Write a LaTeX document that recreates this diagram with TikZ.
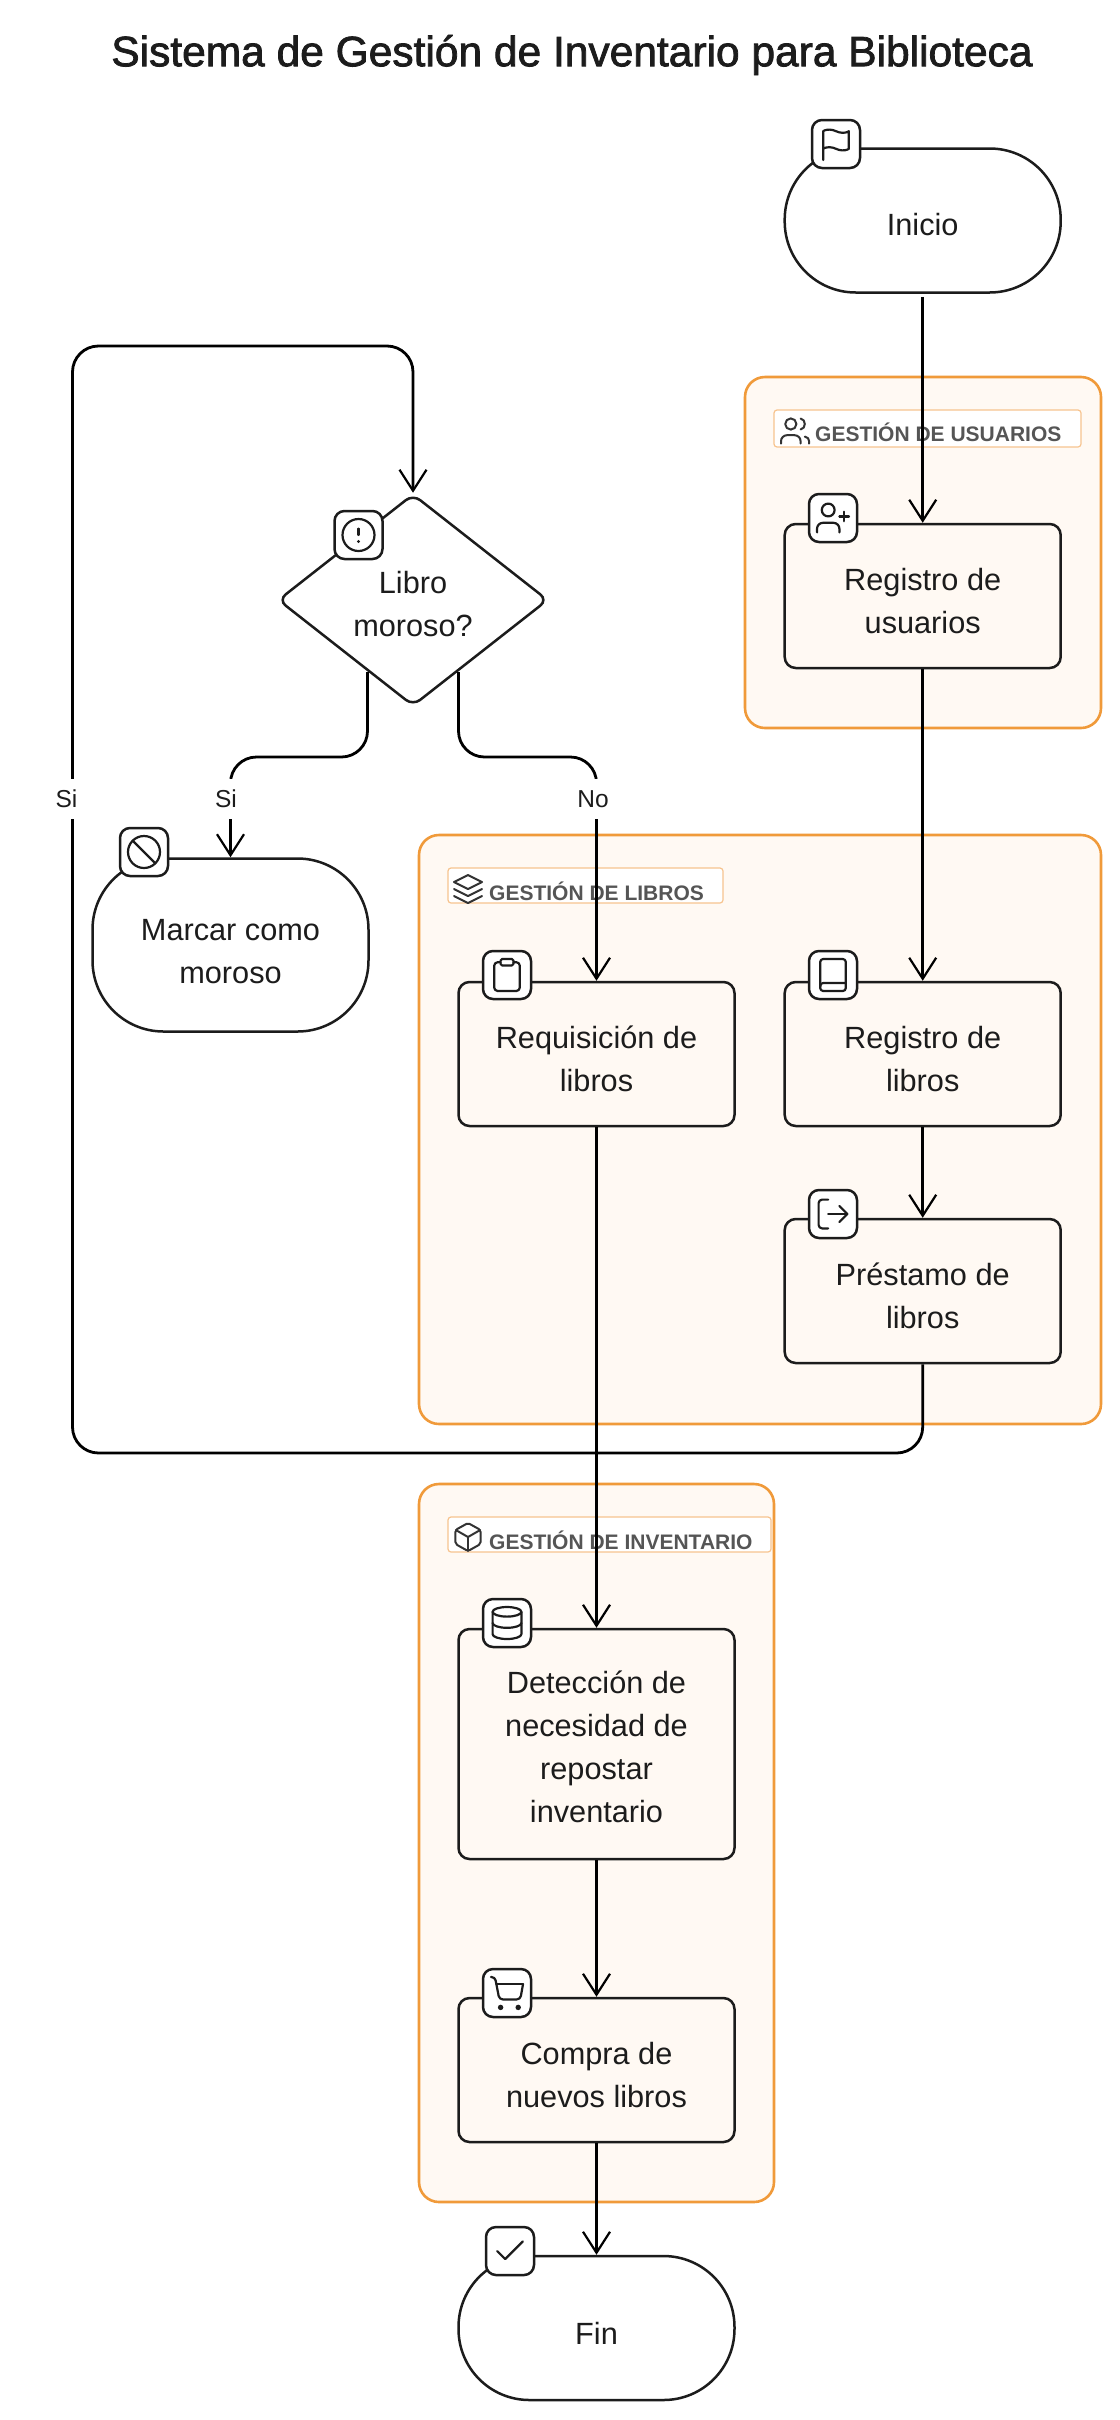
\documentclass[tikz,border=0pt]{standalone}
\usepackage{fontspec}
\setmainfont{Liberation Sans}
\newfontfamily\titlefont[FakeBold=1.8]{Liberation Sans}
\usetikzlibrary{arrows.meta,shapes.geometric}
\definecolor{groupline}{HTML}{F09A3A}
\definecolor{groupfill}{HTML}{FFF9F3}
\definecolor{labelline}{HTML}{F7C48F}
\definecolor{labeltext}{HTML}{555555}
\definecolor{inkline}{HTML}{1C1C1C}
\newcommand{\nodelift}{81pt}
\tikzset{
    basetext/.style={font=\fontsize{30.7}{43}\selectfont, text=inkline, align=center, inner sep=0pt, execute at begin node={\rule{0pt}{\nodelift}}, execute at end node={\rule[-7pt]{0pt}{7pt}}},
    lift/.code={\renewcommand{\nodelift}{#1}},
    groupbox/.style={draw=groupline, fill=groupfill, line width=2.6pt, rounded corners=20pt},
    labelbox/.style={draw=labelline, fill=white, line width=1.2pt, rounded corners=3pt},
    labeltxt/.style={font=\bfseries\fontsize{21}{24}\selectfont, text=labeltext, anchor=base west, inner sep=0pt},
    procbox/.style={basetext, draw=inkline, fill=groupfill, line width=2.5pt, rounded corners=11pt, minimum width=276pt, minimum height=144pt},
    endbox/.style={basetext, draw=inkline, fill=white, line width=2.5pt, rounded corners=71pt, minimum width=276pt, minimum height=144pt},
    diambox/.style={basetext, diamond, draw=inkline, fill=white, line width=2.5pt, rounded corners=9pt, aspect=1.275, minimum width=270pt, minimum height=212pt},
    iconbox/.style={draw=inkline, fill=white, line width=2.5pt, rounded corners=10pt, minimum size=48pt, inner sep=0pt},
    flow/.style={draw=black, line width=2.8pt, -{Straight Barb[length=21pt,width=27pt,line width=2.2pt]}},
    edgetxt/.style={font=\fontsize{24.5}{28}\selectfont, text=inkline, fill=white, inner xsep=4pt, inner ysep=0pt, minimum height=40pt},
    icongrid/.style={shift={(#1.center)}, x=1.6pt, y=-1.6pt, shift={(-12,-12)}, draw=inkline, line width=2.2pt, line cap=round, line join=round},
    smallgrid/.style={shift={(#1)}, x=1.4pt, y=-1.4pt, shift={(-12,-12)}, draw=labeltext!60!black, line width=2pt, line cap=round, line join=round},
}
\begin{document}
\begin{tikzpicture}[x=1pt, y=-1pt]
        \fill[white] (0,0) rectangle (1119,2420);
        \useasboundingbox (0,0) rectangle (1119,2420);

        \node[font=\titlefont\fontsize{42.5}{48}\selectfont, text=inkline, inner sep=0pt] (title) at (572,55) {Sistema de Gestión de Inventario para Biblioteca};

        \draw[groupbox] (745,377) rectangle (1101,728);
        \draw[groupbox] (419,835) rectangle (1101,1424);
        \draw[groupbox] (419,1484) rectangle (774,2202);

        \draw[labelbox] (774,410) rectangle (1081,447);
        \draw[labelbox] (448,868) rectangle (723,903);
        \draw[labelbox] (448,1517) rectangle (771,1552);
        \node[labeltxt] (usrlabel) at (815,441) {GESTIÓN DE USUARIOS};
        \node[labeltxt] (liblabel) at (489,900) {GESTIÓN DE LIBROS};
        \node[labeltxt] (invlabel) at (489,1549) {GESTIÓN DE INVENTARIO};
        \coordinate (usrmark) at (795,431);
        \coordinate (libmark) at (468,889);
        \coordinate (invmark) at (468,1537);

        \node[lift=36pt, endbox] (inicio) at (922.7,220.5) {Inicio};
        \node[procbox] (regusr) at (922.7,596) {Registro de\\usuarios};
        \node[lift=79pt, diambox] (moroso) at (413,600) {Libro\\moroso?};
        \node[lift=84pt, endbox, minimum height=173pt] (marcar) at (230.5,945) {Marcar como\\moroso};
        \node[procbox] (reqlib) at (596.5,1054) {Requisición de\\libros};
        \node[procbox] (reglib) at (922.7,1054) {Registro de\\libros};
        \node[procbox] (preslib) at (922.7,1291) {Préstamo de\\libros};
        \node[lift=163pt, procbox, minimum height=230pt] (detect) at (596.5,1744) {Detección de\\necesidad de\\repostar\\inventario};
        \node[procbox] (compra) at (596.5,2070) {Compra de\\nuevos libros};
        \node[lift=39pt, endbox] (fin) at (596.5,2328) {Fin};

        \node[iconbox] (icoflag) at (836,144) {};
        \node[iconbox] (icoadd) at (833,518) {};
        \node[iconbox] (icoalert) at (358.5,535) {};
        \node[iconbox] (icoban) at (144,852) {};
        \node[iconbox] (icoclip) at (507,975) {};
        \node[iconbox] (icobook) at (833,975) {};
        \node[iconbox] (icoout) at (833,1214) {};
        \node[iconbox] (icodata) at (507,1623) {};
        \node[iconbox] (icocart) at (507,1993) {};
        \node[iconbox] (icocheck) at (510,2251) {};

        \begin{scope}[icongrid=icoflag]
            \draw (4,22) -- (4,4) .. controls (4,4) and (5,3) .. (8,3) .. controls (11,3) and (13,5) .. (16,5) .. controls (19,5) and (20,4) .. (20,4) -- (20,15) .. controls (20,15) and (19,16) .. (16,16) .. controls (13,16) and (11,14) .. (8,14) .. controls (5,14) and (4,15) .. (4,15);
        \end{scope}
        \begin{scope}[icongrid=icoadd]
            \draw (9,7) circle (4);
            \draw[rounded corners=6pt] (2,21) -- (2,15) -- (16,15) -- (16,21);
            \draw (19,8) -- (19,14);
            \draw (16,11) -- (22,11);
        \end{scope}
        \begin{scope}[icongrid=icoalert]
            \draw (12,12) circle (10);
            \draw (12,8) -- (12,12);
            \fill[inkline] (12,16) circle (1);
        \end{scope}
        \begin{scope}[icongrid=icoban]
            \draw (12,12) circle (10);
            \draw (4.9,4.9) -- (19.1,19.1);
        \end{scope}
        \begin{scope}[icongrid=icoclip]
            \draw[rounded corners=1.5pt] (8,2) rectangle (16,6);
            \draw[rounded corners=3.5pt] (16,4) -- (20,4) -- (20,22) -- (4,22) -- (4,4) -- (8,4);
        \end{scope}
        \begin{scope}[icongrid=icobook]
            \draw[rounded corners=3pt] (20,2) -- (4,2) -- (4,22) -- (20,22) -- cycle;
            \draw[rounded corners=3pt] (4,19.5) -- (4,17) -- (20,17);
        \end{scope}
        \begin{scope}[icongrid=icoout]
            \draw[rounded corners=3.5pt] (9,21) -- (3,21) -- (3,3) -- (9,3);
            \draw (16,17) -- (21,12) -- (16,7);
            \draw (21,12) -- (9,12);
        \end{scope}
        \begin{scope}[icongrid=icodata]
            \draw (12,5) ellipse (9 and 3);
            \draw (3,5) -- (3,19) arc[start angle=180, end angle=360, x radius=9, y radius=-3] -- (21,5);
            \draw (3,12) arc[start angle=180, end angle=360, x radius=9, y radius=-3];
        \end{scope}
        \begin{scope}[icongrid=icocart]
            \fill[inkline] (8,21) circle (1.7);
            \fill[inkline] (19,21) circle (1.7);
            \draw[rounded corners=3.5pt] (2,2) -- (4.5,2) -- (7.2,16) -- (20.3,16) -- (22,6.5);
            \draw (22,6.5) -- (5.2,6.5);
        \end{scope}
        \begin{scope}[icongrid=icocheck]
            \draw (20,6) -- (9,17) -- (4,12);
        \end{scope}

        \begin{scope}[smallgrid=usrmark]
            \draw (9,7) circle (4);
            \draw[rounded corners=6pt] (2,21) -- (2,15) -- (16,15) -- (16,21);
            \draw (22,21) -- (22,19) .. controls (22,17.5) and (21,16.5) .. (19,16);
            \draw (16,3.1) .. controls (18,3.6) and (19,5) .. (19,7) .. controls (19,9) and (18,10.4) .. (16,10.9);
        \end{scope}
        \begin{scope}[smallgrid=libmark]
            \draw (12,2) -- (2,7) -- (12,12) -- (22,7) -- cycle;
            \draw (2,12) -- (12,17) -- (22,12);
            \draw (2,17) -- (12,22) -- (22,17);
        \end{scope}
        \begin{scope}[smallgrid=invmark]
            \draw[rounded corners=2pt] (12,2) -- (21,7) -- (21,17) -- (12,22) -- (3,17) -- (3,7) -- cycle;
            \draw (3.3,7) -- (12,12) -- (20.7,7);
            \draw (12,22) -- (12,12);
        \end{scope}

        \coordinate (sistart) at (367.5,672);
        \coordinate (nostart) at (458.5,672);
        \coordinate (sibend) at (230.5,757);
        \coordinate (nobend) at (596.5,757);
        \coordinate (looplow) at (72.5,1453);
        \coordinate (looptop) at (72.5,346);

        \draw[flow, shorten <=3pt] (inicio.south) -- (regusr.north);
        \draw[flow] (regusr.south) -- (reglib.north);
        \draw[flow] (reglib.south) -- (preslib.north);
        \draw[flow, rounded corners=26pt] (preslib.south) |- (looplow) -- (looptop) -| (moroso.north);
        \draw[flow, rounded corners=26pt] (sistart) |- (sibend) -- (marcar.north);
        \draw[flow, rounded corners=26pt] (nostart) |- (nobend) -- (reqlib.north);
        \draw[flow] (reqlib.south) -- (detect.north);
        \draw[flow] (detect.south) -- (compra.north);
        \draw[flow] (compra.south) -- (fin.north);

        \node[edgetxt] (sileft) at (66.5,799) {Si};
        \node[edgetxt] (siright) at (226,799) {Si};
        \node[edgetxt] (nolabel) at (593,799) {No};
    \end{tikzpicture}
\end{document}
